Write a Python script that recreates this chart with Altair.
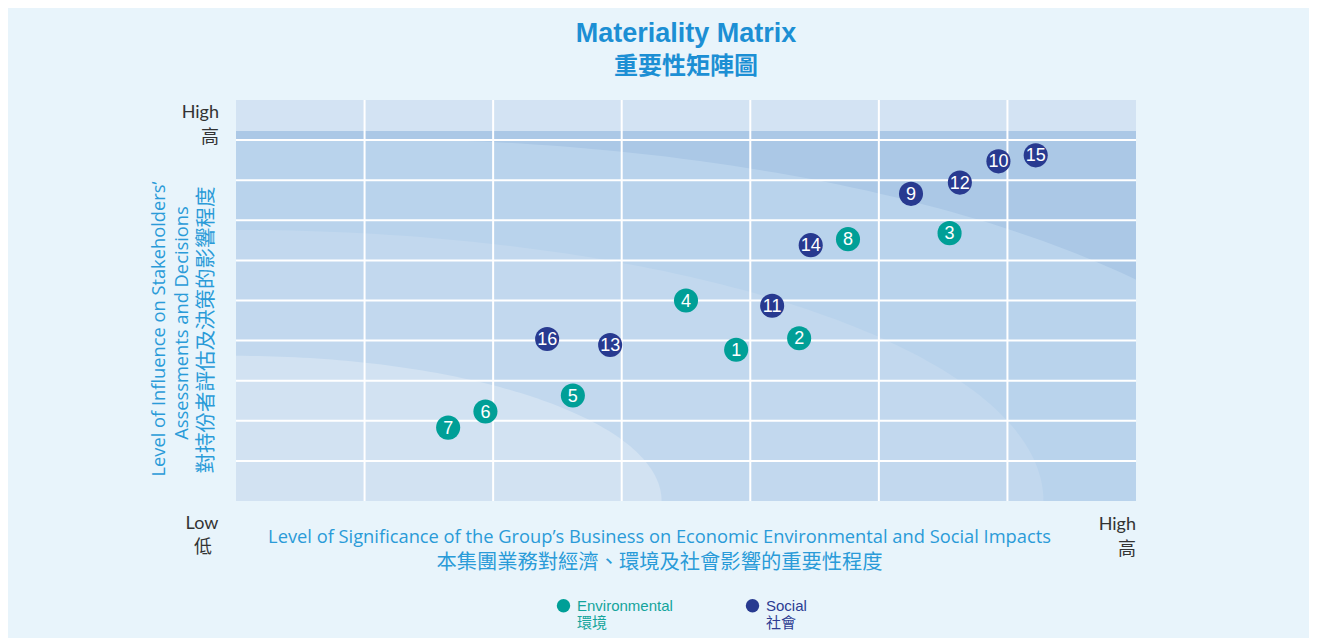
import altair as alt
import pandas as pd

# ---------------- data ----------------
issue_ids = [1, 2, 3, 4, 5, 6, 7, 8, 9, 10, 11, 12, 13, 14, 15, 16]
issue_group = ["Environmental"] * 8 + ["Social"] * 8
significance = [3.89, 4.38, 5.55, 3.50, 2.62, 1.94, 1.65, 4.76,
                5.25, 5.93, 4.17, 5.63, 2.91, 4.47, 6.22, 2.42]
influence = [3.77, 4.06, 6.68, 5.00, 2.63, 2.23, 1.83, 6.53,
             7.66, 8.47, 4.87, 7.94, 3.89, 6.38, 8.62, 4.04]

group_names = ["Environmental", "Social"]
group_labels_zh = ["環境", "社會"]
group_colors = ["#009f97", "#283a90"]
group_text_colors = ["#14a49c", "#2c3c92"]

x_grid = [1, 2, 3, 4, 5, 6]
y_grid = [1, 2, 3, 4, 5, 6, 7, 8, 9]

title_en = "Materiality Matrix"
title_zh = "重要性矩陣圖"
x_title_en = "Level of Significance of the Group\u2019s Business on Economic Environmental and Social Impacts"
x_title_zh = "本集團業務對經濟、環境及社會影響的重要性程度"
y_title_en1 = "Level of Influence on Stakeholders\u2019"
y_title_en2 = "Assessments and Decisions"
y_title_zh = "對持份者評估及決策的影響程度"

W, H = 900, 401
XMAX, YMAX = 7, 10

df = pd.DataFrame({"id": issue_ids, "group": issue_group,
                   "x": significance, "y": influence})


def X(field):
    return alt.X(field, type="quantitative",
                 scale=alt.Scale(domain=[0, XMAX], nice=False, zero=False), axis=None)


def Y(field):
    return alt.Y(field, type="quantitative",
                 scale=alt.Scale(domain=[0, YMAX], nice=False, zero=False), axis=None)


# decorative quarter-ellipse background zones (centre offset cx, radii rx, ry in data units)
def zone(cx, rx, ry, color):
    return (
        alt.Chart(pd.DataFrame({"t": [float(v) for v in range(0, 92)]}))
        .transform_calculate(
            px=f"datum.t > 90 ? 0 : {cx} + {rx} * cos(datum.t * PI / 180)",
            py=f"datum.t > 90 ? {ry} : {ry} * sin(datum.t * PI / 180)",
        )
        .mark_area(color=color, clip=True, opacity=1)
        .encode(x=X("px"), y=Y("py"), y2=alt.datum(0))
    )


zones = [
    zone(1.0, 7.58, 9.03, "#b9d3ec"),
    zone(0.0, 6.28, 6.76, "#c2d8ee"),
    zone(0.0, 3.31, 3.62, "#d2e2f2"),
]

band = (
    alt.Chart(pd.DataFrame({"a": [0], "b": [XMAX], "c": [9.23], "d": [YMAX]}))
    .mark_rect(color="#d3e3f3")
    .encode(x=X("a"), x2="b:Q", y=Y("c"), y2="d:Q")
)

vgrid = alt.Chart(pd.DataFrame({"v": x_grid})).mark_rule(
    color="white", strokeWidth=2).encode(x=X("v"))
hgrid = alt.Chart(pd.DataFrame({"v": y_grid})).mark_rule(
    color="white", strokeWidth=2).encode(y=Y("v"))

# two-line legend labels: English level with the symbol, Chinese below
zh_expr = " : ".join(
    f"datum.value == '{g}' ? ['{g}', '{z}']" for g, z in zip(group_names, group_labels_zh)
) + " : datum.label"
color_expr = (f"datum.value == '{group_names[1]}' ? '{group_text_colors[1]}' "
              f": '{group_text_colors[0]}'")

points = alt.Chart(df).mark_circle(size=580, opacity=1).encode(
    x=X("x"), y=Y("y"),
    color=alt.Color(
        "group:N",
        scale=alt.Scale(domain=group_names, range=group_colors),
        legend=alt.Legend(
            title=None, orient="none", direction="horizontal",
            legendX=320, legendY=498,
            symbolType="circle", symbolSize=180, symbolStrokeWidth=0,
            labelFont="Liberation Sans, Noto Sans CJK TC", labelFontSize=15,
            labelBaseline="middle",
            labelExpr=zh_expr,
            labelColor=alt.ExprRef(color_expr),
            labelOffset=6, columnPadding=72,
        ),
    ),
)

numbers = alt.Chart(df).mark_text(
    color="white", fontSize=18, font="Liberation Sans", baseline="middle", dy=1
).encode(x=X("x"), y=Y("y"), text="id:N")


def note(text, x, y, size, color, font, weight="normal", align="center", angle=0):
    return (
        alt.Chart(pd.DataFrame({"t": [text]}))
        .mark_text(fontSize=size, color=color, font=font, fontWeight=weight,
                   align=align, baseline="middle", angle=angle)
        .encode(x=alt.value(x), y=alt.value(y), text="t:N")
    )


TITLE_C = "#1c8fd4"
AX_C = "#2a9bd8"
LBL_C = "#333333"
EN = "Lato"
AXF = "Open Sans"
ZH = "Noto Sans CJK TC"

notes = [
    note(title_en, 450, -66, 27, TITLE_C, "Liberation Sans", "bold"),
    note(title_zh, 450, -33, 24, TITLE_C, ZH, "bold"),
    note("High", -17, 13, 18, LBL_C, EN, align="right"),
    note("高", -17, 38, 18, LBL_C, ZH, align="right"),
    note("Low", -34, 424, 18, LBL_C, EN),
    note("低", -33, 448, 18, LBL_C, ZH),
    note("High", 900, 425, 18, LBL_C, EN, align="right"),
    note("高", 900, 450, 18, LBL_C, ZH, align="right"),
    note(x_title_en, 423.5, 438, 18.3, AX_C, AXF),
    note(x_title_zh, 423.5, 463, 20.3, AX_C, ZH),
    note(y_title_en1, -76, 229, 18.3, AX_C, AXF, angle=270),
    note(y_title_en2, -53, 223, 18.3, AX_C, AXF, angle=270),
    note(y_title_zh, -29, 230, 20.5, AX_C, ZH, angle=270),
]

chart = (
    alt.layer(*zones, band, vgrid, hgrid, points, numbers, *notes)
    .properties(
        width=W, height=H, autosize="none",
        padding={"left": 228, "top": 92, "right": 173, "bottom": 137},
        background="#e8f4fb",
    )
    .configure_view(fill="#abc8e6", stroke=None)
)

chart.save("out.html", embed_options={"renderer": "svg", "actions": False})
